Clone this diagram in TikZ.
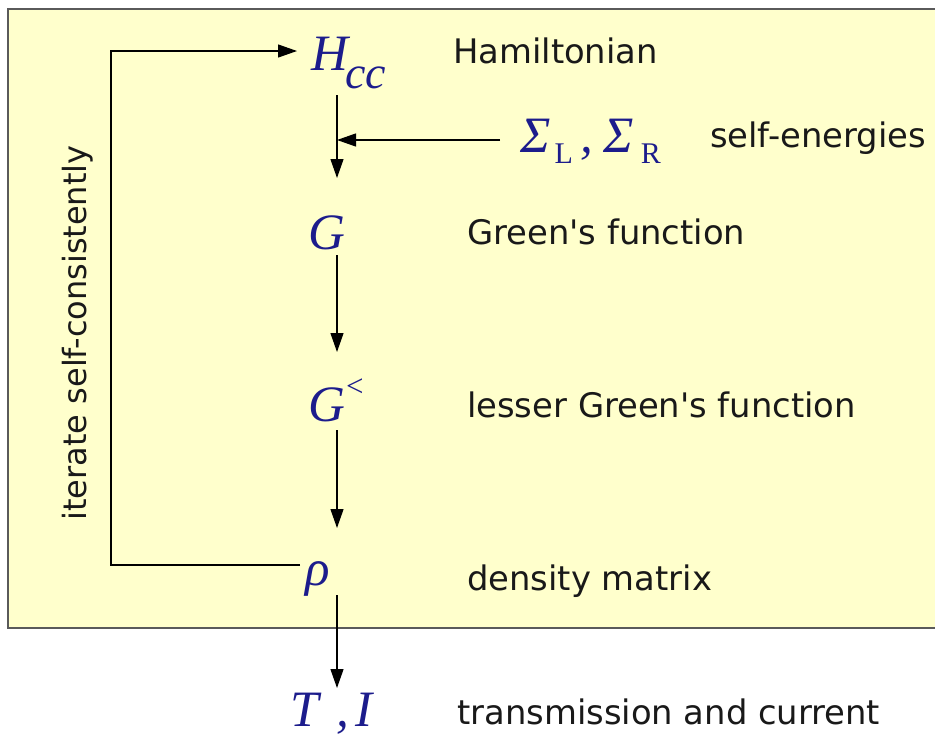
\documentclass[tikz,border=0pt]{standalone}
\usepackage{fontspec}
\setmainfont{DejaVu Sans}
\newfontfamily\mfont{Liberation Serif}
\usetikzlibrary{arrows.meta}
\definecolor{mblue}{RGB}{28,28,140}
\definecolor{boxfill}{RGB}{255,255,204}
\definecolor{boxline}{RGB}{90,90,90}
\tikzset{
 mathlbl/.style={inner sep=0pt, anchor=base west, text=mblue, font=\mfont\itshape\fontsize{51}{51}\selectfont},
 desc/.style={inner sep=0pt, anchor=base west, font=\fontsize{33.8}{34}\selectfont, text=black!90},
 arr/.style={line width=1.2pt, -{Triangle[length=19pt,width=13pt]}},
}
\begin{document}
\begin{tikzpicture}[x=1pt,y=-1pt]
\clip (0,0) rectangle (935,737);
\fill[white] (0,0) rectangle (935,737);
\draw[fill=boxfill, draw=boxline, line width=1.3pt] (8,9) rectangle (960,628);
\coordinate (ax) at (337,0);
\coordinate (loop) at (111,300);
\node[mathlbl] (H) at (311,70) {H\kern-3pt\raisebox{-18pt}{\fontsize{46}{46}\selectfont cc}};
\node[desc] (Hd) at (453,63) {Hamiltonian};
\node[mathlbl] (S) at (520,152) {Σ\kern4pt\raisebox{-11pt}{\upshape\fontsize{30}{30}\selectfont L}\kern8pt,\kern10ptΣ\kern7pt\raisebox{-11pt}{\upshape\fontsize{30}{30}\selectfont R}};
\node[desc] (Sd) at (710,147) {self-energies};
\node[mathlbl] (G) at (308,249) {G};
\node[desc] (Gd) at (467,244) {Green\textquotesingle s function};
\node[mathlbl] (Gl) at (308,421) {G\kern1pt\raisebox{25pt}{\upshape\fontsize{31}{31}\selectfont <}};
\node[desc] (Gld) at (467,417) {lesser Green\textquotesingle s function};
\node[mathlbl] (rho) at (305,585) {ρ};
\node[desc] (rhod) at (467,590) {density matrix};
\node[mathlbl] (T) at (290,726) {T\kern18pt,\kern6pt I};
\node[desc] (Td) at (457,724) {transmission and current};
\node[font=\fontsize{32}{32}\selectfont, rotate=90, inner sep=0pt, text=black!90] (it) at (78,333) {iterate self-consistently};
\draw[arr] ([yshift=-25pt]H.base west -| ax) -- ([yshift=71pt]G.base west -| ax);
\draw[arr] ([xshift=-20pt,yshift=12pt]S.base west) -- ([yshift=12pt]S.base west -| ax);
\draw[arr] ([yshift=-6pt]G.base west -| ax) -- ([yshift=69pt]Gl.base west -| ax);
\draw[arr] ([yshift=-9pt]Gl.base west -| ax) -- ([yshift=57pt]rho.base west -| ax);
\draw[arr] ([yshift=-10pt]rho.base west -| ax) -- ([yshift=38pt]T.base west -| ax);
\draw[arr] ([xshift=-5pt,yshift=20pt]rho.base west) -| (loop) |- ([xshift=-14pt,yshift=19pt]H.base west);
\end{tikzpicture}
\end{document}
